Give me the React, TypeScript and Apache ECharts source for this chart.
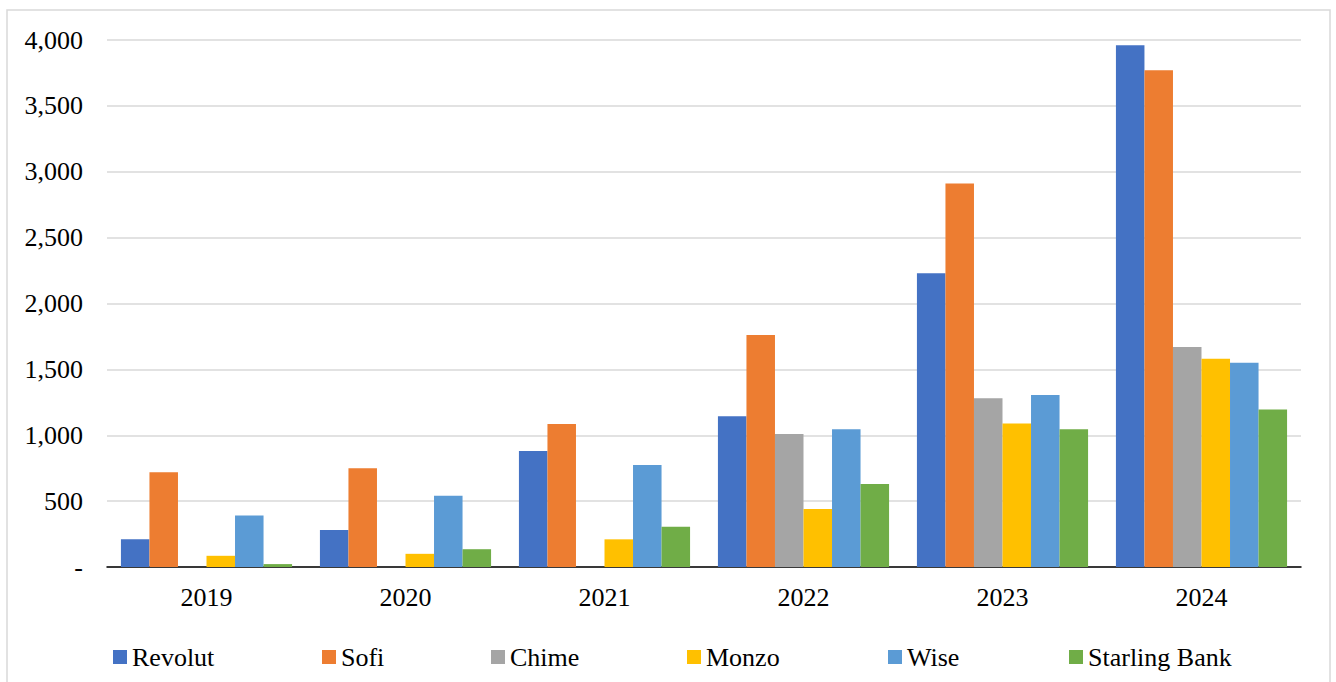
import React, { useEffect, useRef } from "react";
import * as echarts from "echarts";

const years = ["2019", "2020", "2021", "2022", "2023", "2024"];
const revolut = [210, 280, 880, 1145, 2230, 3960];
const sofi = [720, 750, 1085, 1760, 2910, 3770];
const chime = [0, 0, 0, 1010, 1280, 1670];
const monzo = [85, 100, 210, 440, 1090, 1580];
const wise = [390, 540, 775, 1045, 1305, 1550];
const starling = [22, 135, 305, 630, 1045, 1195];

const seriesNames = ["Revolut", "Sofi", "Chime", "Monzo", "Wise", "Starling Bank"];
const seriesData = [revolut, sofi, chime, monzo, wise, starling];
const colors = ["#4472C4", "#ED7D31", "#A5A5A5", "#FFC000", "#5B9BD5", "#70AD47"];
const legendLefts = [113, 322, 491, 687, 888, 1069];

const FONT = "'Liberation Serif', 'Times New Roman', serif";

export default function App() {
  const ref = useRef<HTMLDivElement>(null);
  useEffect(() => {
    if (!ref.current) return;
    const chart = echarts.init(ref.current, null, { renderer: "svg" });
    chart.setOption({
      animation: false,
      backgroundColor: "#ffffff",
      color: colors,
      textStyle: { fontFamily: FONT },
      graphic: [
        {
          type: "rect",
          shape: { x: 7, y: 10, width: 1323, height: 700 },
          style: { fill: "none", stroke: "#d9d9d9", lineWidth: 1.5 },
          silent: true,
        },
      ],
      grid: { left: 107, right: 35, top: 40, bottom: 115 },
      legend: seriesNames.map((name, i) => ({
        left: legendLefts[i],
        top: 644,
        padding: 0,
        itemWidth: 14,
        itemHeight: 14,
        itemGap: 0,
        icon: "rect",
        textStyle: { fontFamily: FONT, fontSize: 26, color: "#000" },
        data: [name],
      })),
      xAxis: {
        type: "category",
        data: years,
        axisTick: { show: false },
        axisLine: { lineStyle: { color: "#000", width: 1.5 } },
        axisLabel: { fontFamily: FONT, fontSize: 26, color: "#000", margin: 17 },
      },
      yAxis: {
        type: "value",
        min: 0,
        max: 4000,
        interval: 500,
        axisLine: { show: false },
        axisTick: { show: false },
        splitLine: { lineStyle: { color: "#d9d9d9", width: 1.5 } },
        axisLabel: {
          fontFamily: FONT,
          fontSize: 26,
          color: "#000",
          margin: 24,
          formatter: (v: number) => (v === 0 ? "-" : v.toLocaleString("en-US")),
        },
      },
      series: seriesNames.map((name, i) => ({
        name,
        type: "bar",
        data: seriesData[i],
        barGap: "0%",
        barCategoryGap: "14%",
        itemStyle: { color: colors[i] },
      })),
    });
    return () => chart.dispose();
  }, []);
  return (
    <div
      ref={ref}
      style={{ position: "fixed", left: 0, top: 0, width: 1336, height: 682 }}
    />
  );
}
